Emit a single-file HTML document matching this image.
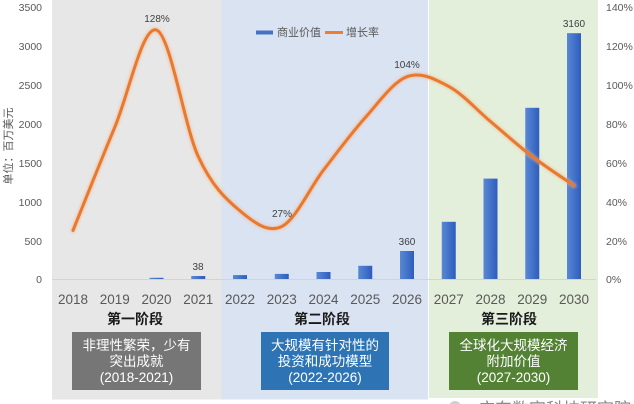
<!DOCTYPE html>
<html>
<head>
<meta charset="utf-8">
<style>
html,body{margin:0;padding:0;background:#fff;}
svg{display:block;}
text{font-family:"Liberation Sans","Noto Sans CJK SC",sans-serif;}
</style>
</head>
<body>
<svg width="634" height="404" viewBox="0 0 634 404" xmlns="http://www.w3.org/2000/svg">
<defs>
<linearGradient id="bar" x1="0" y1="0" x2="1" y2="0">
<stop offset="0" stop-color="#5A88D4"/>
<stop offset="1" stop-color="#2D5DBE"/>
</linearGradient>
<filter id="glow" x="-5%" y="-5%" width="110%" height="110%">
<feGaussianBlur stdDeviation="1.2"/>
</filter>
</defs>
<rect x="0" y="0" width="634" height="404" fill="#fff"/>
<rect x="52" y="0" width="169.5" height="399.5" fill="#E7E7E7"/>
<rect x="221.5" y="0" width="206.5" height="399.5" fill="#DAE3F2"/>
<rect x="429" y="0" width="169" height="398" fill="#E3EFDA"/>
<line x1="52" y1="279.5" x2="596" y2="279.5" stroke="#D4D4D4" stroke-width="1"/>

<g font-size="10.5" fill="#595959" text-anchor="end">
<text x="42" y="11">3500</text>
<text x="42" y="50">3000</text>
<text x="42" y="89">2500</text>
<text x="42" y="128">2000</text>
<text x="42" y="167">1500</text>
<text x="42" y="206">1000</text>
<text x="42" y="245">500</text>
<text x="42" y="283">0</text>
</g>
<g font-size="10.5" fill="#595959" text-anchor="start">
<text x="606" y="11">140%</text>
<text x="606" y="50">120%</text>
<text x="606" y="89">100%</text>
<text x="606" y="128">80%</text>
<text x="606" y="167">60%</text>
<text x="606" y="206">40%</text>
<text x="606" y="245">20%</text>
<text x="606" y="283">0%</text>
</g>
<text x="0" y="0" font-size="11" fill="#595959" text-anchor="middle" transform="translate(12,146) rotate(-90)">单位：百万美元</text>

<g fill="url(#bar)">
<rect x="149.5" y="277.8" width="14" height="1.2"/>
<rect x="191.25" y="276" width="14" height="3"/>
<rect x="233" y="275.1" width="14" height="3.9"/>
<rect x="274.75" y="273.9" width="14" height="5.1"/>
<rect x="316.5" y="272" width="14" height="7"/>
<rect x="358.25" y="265.8" width="14" height="13.2"/>
<rect x="400" y="251" width="14" height="28"/>
<rect x="441.75" y="221.8" width="14" height="57.2"/>
<rect x="483.5" y="178.6" width="14" height="100.4"/>
<rect x="525.25" y="107.8" width="14" height="171.2"/>
<rect x="567" y="33.2" width="14" height="245.8"/>
</g>

<path d="M73,230.4 C79.96,213.22 100.83,160.7 114.75,127.3 C128.67,93.9 142.58,25.13 156.5,30.0 C170.42,34.87 184.33,126.35 198.25,156.5 C212.17,186.65 226.08,199.23 240,210.9 C253.92,222.57 267.83,233.3 281.75,226.5 C295.67,219.7 309.58,188.25 323.5,170.1 C337.42,151.95 351.33,133.17 365.25,117.6 C379.17,102.03 393.08,81.9 407,76.7 C420.92,71.5 434.83,78.93 448.75,86.4 C462.67,93.87 476.58,109.82 490.5,121.5 C504.42,133.18 518.33,145.82 532.25,156.5 C546.17,167.18 567.04,180.75 574,185.6" fill="none" stroke="#F4B183" stroke-width="5" stroke-linecap="round" opacity="0.6" filter="url(#glow)"/>
<path d="M73,230.4 C79.96,213.22 100.83,160.7 114.75,127.3 C128.67,93.9 142.58,25.13 156.5,30.0 C170.42,34.87 184.33,126.35 198.25,156.5 C212.17,186.65 226.08,199.23 240,210.9 C253.92,222.57 267.83,233.3 281.75,226.5 C295.67,219.7 309.58,188.25 323.5,170.1 C337.42,151.95 351.33,133.17 365.25,117.6 C379.17,102.03 393.08,81.9 407,76.7 C420.92,71.5 434.83,78.93 448.75,86.4 C462.67,93.87 476.58,109.82 490.5,121.5 C504.42,133.18 518.33,145.82 532.25,156.5 C546.17,167.18 567.04,180.75 574,185.6" fill="none" stroke="#E8792F" stroke-width="3" stroke-linecap="round"/>

<g font-size="10" fill="#404040" text-anchor="middle">
<text x="157" y="22">128%</text>
<text x="282" y="217">27%</text>
<text x="407" y="68">104%</text>
<text x="198" y="270">38</text>
<text x="407" y="245">360</text>
<text x="574" y="27">3160</text>
</g>

<rect x="256" y="30.5" width="17" height="4" fill="#4472C4"/>
<text x="277" y="36" font-size="11" fill="#595959">商业价值</text>
<line x1="325" y1="32.5" x2="343" y2="32.5" stroke="#ED7D31" stroke-width="3"/>
<text x="346" y="36" font-size="11" fill="#595959">增长率</text>

<g font-size="13.5" fill="#595959" text-anchor="middle">
<text x="73" y="304">2018</text>
<text x="114.75" y="304">2019</text>
<text x="156.5" y="304">2020</text>
<text x="198.25" y="304">2021</text>
<text x="240" y="304">2022</text>
<text x="281.75" y="304">2023</text>
<text x="323.5" y="304">2024</text>
<text x="365.25" y="304">2025</text>
<text x="407" y="304">2026</text>
<text x="448.75" y="304">2027</text>
<text x="490.5" y="304">2028</text>
<text x="532.25" y="304">2029</text>
<text x="574" y="304">2030</text>
</g>

<g font-size="14" font-weight="bold" fill="#1a1a1a" text-anchor="middle">
<text x="135" y="324">第一阶段</text>
<text x="322" y="324">第二阶段</text>
<text x="509" y="324">第三阶段</text>
</g>

<rect x="72" y="332" width="129" height="58" fill="#767676"/>
<rect x="261" y="332" width="128" height="58" fill="#2E74B5"/>
<rect x="449" y="332" width="129" height="58" fill="#548235"/>
<g font-size="13.5" fill="#ffffff" text-anchor="middle">
<text x="136.5" y="350">非理性繁荣，少有</text>
<text x="136.5" y="366">突出成就</text>
<text x="136.5" y="382">(2018-2021)</text>
<text x="325" y="350">大规模有针对性的</text>
<text x="325" y="366">投资和成功模型</text>
<text x="325" y="382">(2022-2026)</text>
<text x="513.5" y="350">全球化大规模经济</text>
<text x="513.5" y="366">附加价值</text>
<text x="513.5" y="382">(2027-2030)</text>
</g>

<circle cx="455" cy="407" r="6" fill="#cfcfcf"/>
<text x="478" y="415" font-size="17" fill="#8a8a8a">广东数字科技研究院</text>
</svg>
</body>
</html>
